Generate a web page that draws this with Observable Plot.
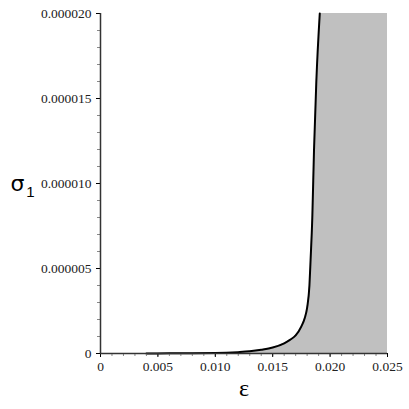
<!DOCTYPE html>
<html><head><meta charset="utf-8">
<script src="https://cdn.jsdelivr.net/npm/d3@7"></script>
<script src="https://cdn.jsdelivr.net/npm/@observablehq/plot@0.6"></script>
<style>body{margin:0;background:#fff}</style>
</head><body><div id="chart"></div>
<script>
const epsilon = [0.004,0.006,0.008,0.010,0.012,0.013,0.014,0.015,0.016,0.0165,0.017,0.0175,0.0178,0.018,0.0182,0.0183,0.01845,0.0186,0.0188,0.0191];
const sigma1 = [0,0.01e-6,0.015e-6,0.025e-6,0.08e-6,0.13e-6,0.22e-6,0.35e-6,0.6e-6,0.8e-6,1.06e-6,1.6e-6,2.1e-6,2.7e-6,4.0e-6,5.5e-6,8e-6,12e-6,16e-6,20e-6];
const xTicks = [0,0.005,0.010,0.015,0.020,0.025];
const yTicks = [0,0.000005,0.000010,0.000015,0.000020];
const xMinor = d3.range(0,26).map(i=>i/1000);
const yMinor = d3.range(0,21).map(i=>i*1e-6);
const xMax = 0.025, yMax = 0.00002;

const curve = epsilon.map((e,i)=>({x:e,y:sigma1[i]}));
const fillData = [...curve, {x:xMax,y:yMax}];

const font = "Liberation Serif, Times New Roman, serif";
const plot = Plot.plot({
  width:409, height:409,
  marginLeft:100, marginRight:22, marginTop:13, marginBottom:56,
  style:{fontFamily:font, fontSize:"13px", color:"#000", background:"#fff"},
  x:{domain:[0,xMax]},
  y:{domain:[0,yMax]},
  marks:[
    Plot.areaY(fillData,{x:"x",y1:0,y2:"y",fill:"#c0c0c0",curve:"linear"}),
    Plot.line(curve,{x:"x",y:"y",stroke:"#000",strokeWidth:2,curve:"monotone-x"}),
    Plot.axisX(xMinor,{tickSize:3,text:null,label:null,stroke:"#888"}),
    Plot.axisY(yMinor,{tickSize:3,text:null,label:null,stroke:"#888"}),
    Plot.axisX(xTicks,{tickSize:4,tickPadding:4,label:null,fontSize:13.5,fontFamily:font,fill:"#222",
      tickFormat:d=>d===0?"0":d.toFixed(3)}),
    Plot.axisY(yTicks,{tickSize:4,tickPadding:5,label:null,fontSize:13.5,fontFamily:font,fill:"#222",
      tickFormat:d=>d===0?"0":d.toFixed(6)}),
    Plot.ruleX([0],{stroke:"#333",strokeWidth:1.5}),
    Plot.ruleY([0],{stroke:"#333",strokeWidth:1.5}),
    Plot.text(["σ"],{frameAnchor:"left",dx:-83,dy:0,fontSize:22,fontFamily:"DejaVu Sans, sans-serif",textAnchor:"middle"}),
    Plot.text(["1"],{frameAnchor:"left",dx:-70,dy:9,fontSize:15,fontFamily:"Liberation Sans, Arial, sans-serif",textAnchor:"middle"}),
    Plot.text(["ε"],{frameAnchor:"bottom",dy:42,fontSize:24,fontFamily:font})
  ]
});
document.getElementById("chart").append(plot);
</script>
</body></html>
